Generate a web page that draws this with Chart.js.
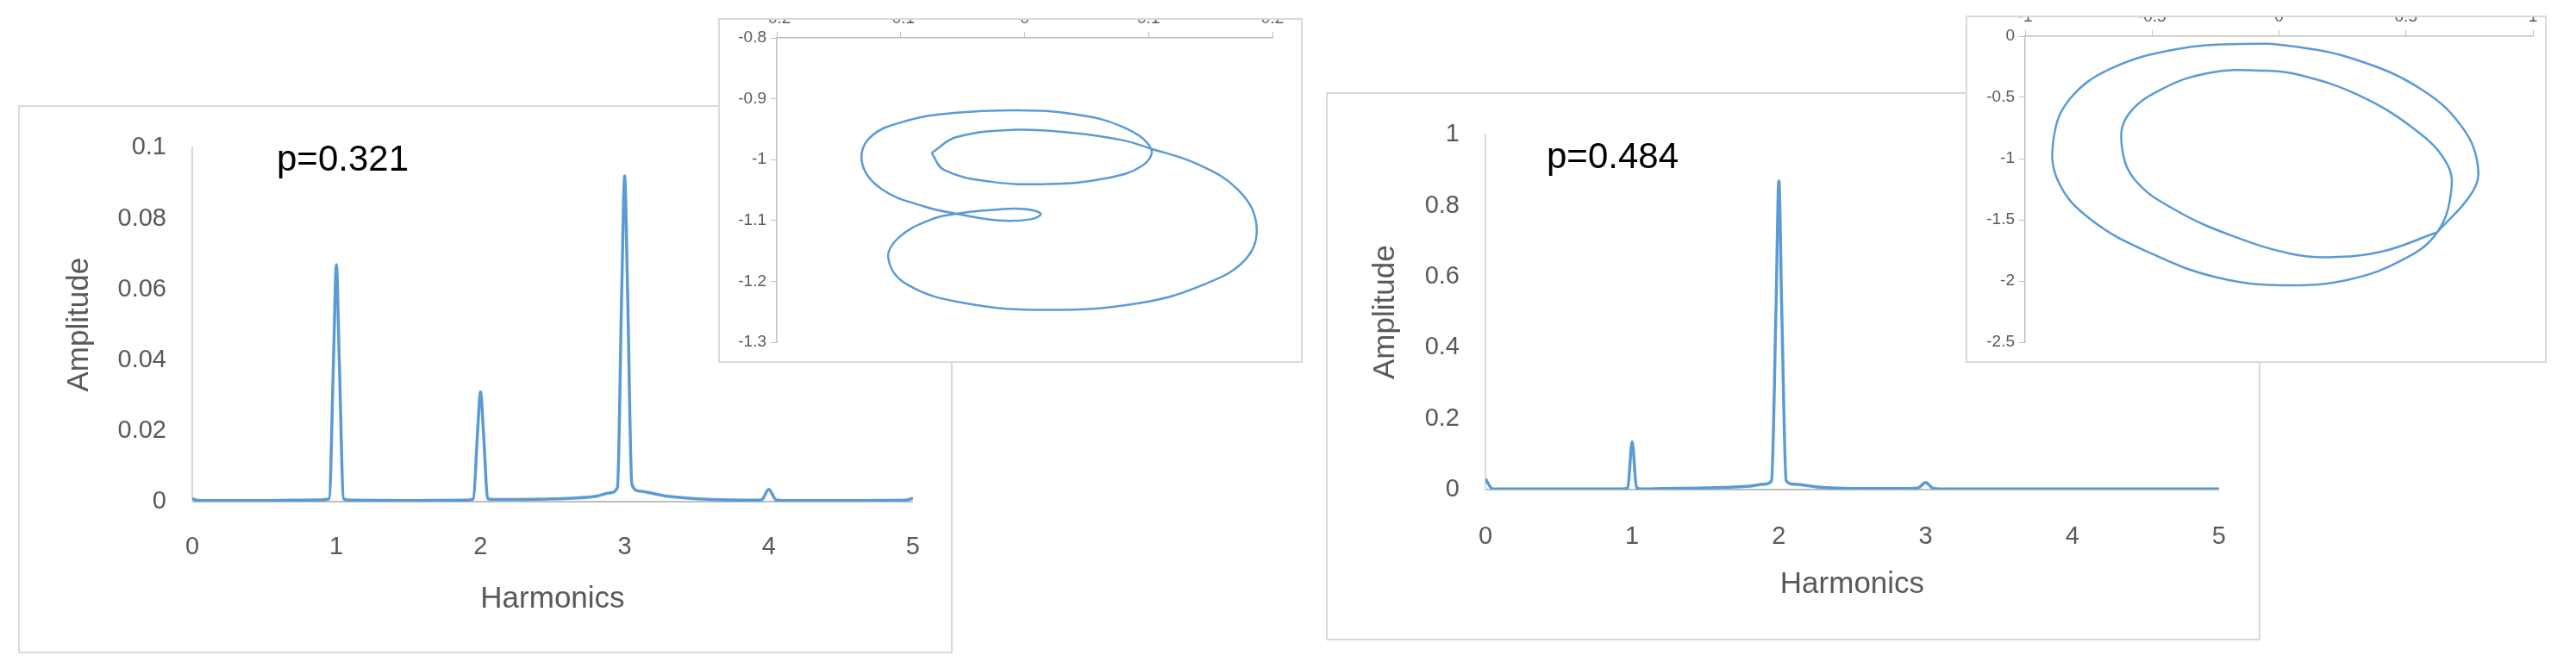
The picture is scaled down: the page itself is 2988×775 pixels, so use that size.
<!DOCTYPE html>
<html><head><meta charset="utf-8">
<script src="https://cdn.jsdelivr.net/npm/chart.js@4/dist/chart.umd.min.js"></script>
<style>
body{margin:0;width:2988px;height:775px;background:#fff;position:relative;overflow:hidden;font-family:"Liberation Sans",Arial,sans-serif}
.box{position:absolute;background:#fff;border:2px solid #d9d9d9;box-sizing:border-box}
.box canvas{position:absolute;left:0;top:0}
.lbl{position:absolute;font-size:42px;color:#000;z-index:5;white-space:nowrap}
</style></head><body>
<div class="box" id="b1" style="left:21px;top:122px;width:1084px;height:636px;z-index:1"><canvas id="c1"></canvas></div>
<div class="box" id="b2" style="left:833px;top:21px;width:678px;height:400px;z-index:2"><canvas id="c2"></canvas></div>
<div class="box" id="b3" style="left:1538px;top:107px;width:1084px;height:636px;z-index:1"><canvas id="c3"></canvas></div>
<div class="box" id="b4" style="left:2280px;top:18px;width:674px;height:403px;z-index:2"><canvas id="c4"></canvas></div>
<div class="lbl" style="left:321px;top:160px;z-index:3">p=0.321</div>
<div class="lbl" style="left:1794px;top:157px;z-index:3">p=0.484</div>
<script>
// Spectrum p=0.321
const harm1X = [0,0.05,0.5,0.9,0.95,0.98,1.0,1.02,1.05,1.1,1.5,1.9,1.95,1.98,2.0,2.02,2.05,2.1,2.5,2.8,2.9,2.95,2.98,3.0,3.02,3.05,3.1,3.3,3.6,3.9,3.95,4.0,4.05,4.1,4.5,4.95,5.0];
const amp1   = [0.0008,0.0003,0.0003,0.0005,0.0008,0.04,0.067,0.04,0.0008,0.0004,0.0003,0.0004,0.0008,0.02,0.031,0.02,0.0008,0.0006,0.0008,0.0015,0.0025,0.004,0.06,0.092,0.06,0.005,0.003,0.0015,0.0006,0.0004,0.0005,0.0035,0.0005,0.0003,0.0003,0.0004,0.001];
// Spectrum p=0.484
const harm2X = [0,0.05,0.5,0.93,0.97,1.0,1.03,1.07,1.2,1.5,1.8,1.9,1.95,1.98,2.0,2.02,2.05,2.1,2.3,2.6,2.9,2.95,3.0,3.05,3.1,3.5,4,4.5,5];
const amp2   = [0.03,0.002,0.002,0.002,0.005,0.135,0.005,0.002,0.003,0.005,0.01,0.015,0.025,0.5,0.87,0.5,0.025,0.015,0.006,0.003,0.003,0.005,0.02,0.004,0.002,0.002,0.002,0.002,0.002];
// Phase portrait p=0.321
const orbit1X = [-0.075,-0.055,-0.008,0.039,0.079,0.102,0.139,0.172,0.187,0.179,0.145,0.092,0.019,-0.048,-0.095,-0.11,-0.101,-0.075,-0.055,-0.028,-0.001,0.013,0.005,-0.021,-0.055,-0.081,-0.115,-0.131,-0.125,-0.095,-0.055,-0.008,0.039,0.079,0.102,0.095,0.065,0.019,-0.028,-0.065,-0.075];
const orbit1Y = [-0.989,-0.963,-0.951,-0.956,-0.968,-0.982,-1.007,-1.049,-1.106,-1.162,-1.205,-1.236,-1.247,-1.236,-1.205,-1.162,-1.127,-1.098,-1.089,-1.083,-1.081,-1.089,-1.098,-1.100,-1.089,-1.077,-1.049,-1.007,-0.964,-0.936,-0.923,-0.919,-0.925,-0.946,-0.982,-1.010,-1.031,-1.040,-1.036,-1.017,-0.989];
// Phase portrait p=0.484
const orbit2X = [0.623,0.758,0.784,0.726,0.565,0.306,0.048,-0.145,-0.403,-0.661,-0.823,-0.887,-0.871,-0.742,-0.5,-0.242,0.016,0.274,0.5,0.623,0.677,0.661,0.532,0.306,0.081,-0.048,-0.274,-0.468,-0.597,-0.619,-0.565,-0.403,-0.177,0.048,0.194,0.403,0.623];
const orbit2Y = [-1.602,-1.285,-1.074,-0.757,-0.440,-0.194,-0.081,-0.063,-0.106,-0.264,-0.511,-0.827,-1.180,-1.496,-1.778,-1.972,-2.035,-1.989,-1.813,-1.602,-1.285,-1.039,-0.757,-0.475,-0.317,-0.282,-0.299,-0.440,-0.651,-0.898,-1.180,-1.426,-1.637,-1.778,-1.806,-1.761,-1.602];

const BLUE='#5B9BD5', GREY='#595959', FONT='"Liberation Sans", Arial, sans-serif';
const pts=(xs,ys)=>xs.map((x,i)=>({x,y:ys[i]}));
const fmt=v=>String(+(+v).toFixed(2));

function sizeCanvas(id,w,h){const c=document.getElementById(id);c.width=w;c.height=h;c.style.width=w+'px';c.style.height=h+'px';return c;}

function mainChart(id,w,h,xs,ys,ymax,ystep,opt){
  const c=sizeCanvas(id,w,h);
  new Chart(c,{type:'scatter',
    data:{datasets:[{data:pts(xs,ys),showLine:true,borderColor:BLUE,borderWidth:3.5,pointRadius:0,tension:0.3,cubicInterpolationMode:'monotone'}]},
    options:{responsive:false,animation:false,devicePixelRatio:1,
      plugins:{legend:{display:false},tooltip:{enabled:false}},
      layout:{padding:{top:opt.top,right:opt.right,left:0,bottom:0}},
      scales:{
        x:{type:'linear',min:0,max:5,afterFit:s=>{s.height=opt.xh;},
          ticks:{stepSize:1,color:GREY,font:{family:FONT,size:29},padding:opt.xpad,callback:fmt,maxRotation:0},
          grid:{display:false,drawTicks:false},border:{display:true,color:'#bfbfbf',width:2},
          title:{display:true,text:'Harmonics',color:GREY,font:{family:FONT,size:35},padding:{top:0,bottom:opt.xtb}}},
        y:{min:0,max:ymax,afterFit:s=>{s.width=opt.yw;},
          ticks:{stepSize:ystep,color:GREY,font:{family:FONT,size:29},padding:30,callback:fmt},
          grid:{display:false,drawTicks:false},border:{display:true,color:'#d9d9d9',width:2},
          title:{display:true,text:'Amplitude',color:GREY,font:{family:FONT,size:35},padding:{top:opt.ytp,bottom:0}}}
      }}});
}

function insetChart(id,w,h,xs,ys,xmin,xmax,xstep,ymin,ymax,ystep,opt){
  const c=sizeCanvas(id,w,h);
  new Chart(c,{type:'scatter',
    data:{datasets:[{data:pts(xs,ys),showLine:true,borderColor:BLUE,borderWidth:2.5,pointRadius:0,tension:0.4}]},
    options:{responsive:false,animation:false,devicePixelRatio:1,
      plugins:{legend:{display:false},tooltip:{enabled:false}},
      layout:{padding:{top:opt.top,right:opt.right,left:0,bottom:opt.bottom}},
      scales:{
        x:{type:'linear',position:'top',min:xmin,max:xmax,afterFit:s=>{s.height=0;},
          ticks:{stepSize:xstep,color:GREY,font:{family:FONT,size:19},mirror:true,padding:-34,callback:fmt,maxRotation:0},
          grid:{drawOnChartArea:false,drawTicks:true,tickLength:7,color:'#bfbfbf'},border:{display:true,color:'#bfbfbf',width:1.5}},
        y:{min:ymin,max:ymax,afterFit:s=>{s.width=opt.yw;},
          ticks:{stepSize:ystep,color:GREY,font:{family:FONT,size:19},padding:5,callback:fmt},
          grid:{drawOnChartArea:false,drawTicks:true,tickLength:7,color:'#bfbfbf'},border:{display:true,color:'#bfbfbf',width:1.5}}
      }}});
}

mainChart('c1',1080,632,harm1X,amp1,0.1,0.02,{top:37,right:41,xh:174,xpad:36,xtb:40,yw:200,ytp:48});
mainChart('c3',1080,632,harm2X,amp2,1,0.2,{top:36,right:40,xh:173,xpad:38,xtb:42,yw:183,ytp:46});
insetChart('c2',674,396,orbit1X,orbit1Y,-0.2,0.2,0.1,-1.3,-0.8,0.1,{top:21,right:33,bottom:22,yw:66});
insetChart('c4',670,399,orbit2X,orbit2Y,-1,1,0.5,-2.5,0,0.5,{top:22,right:14,bottom:22,yw:67});
</script>
</body></html>
